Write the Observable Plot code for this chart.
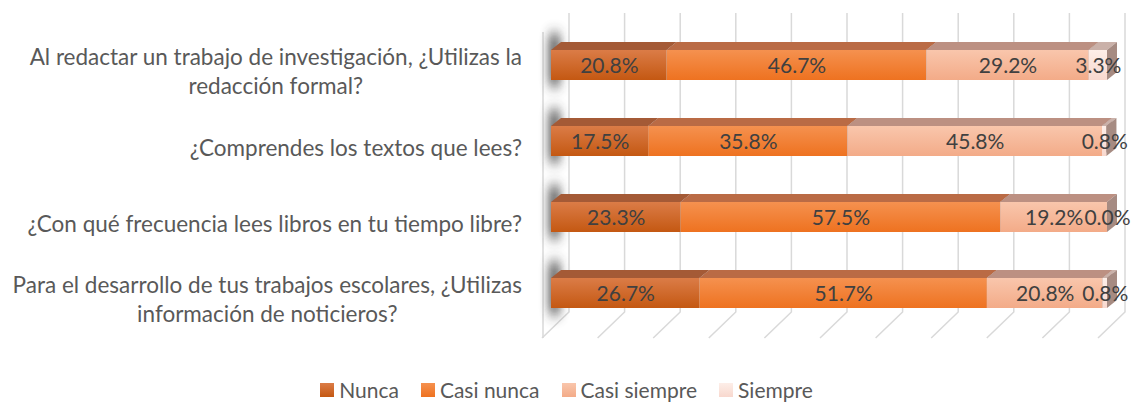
<!DOCTYPE html>
<html>
<head>
<meta charset="utf-8">
<script src="https://cdn.jsdelivr.net/npm/d3@7"></script>
<script src="https://cdn.jsdelivr.net/npm/@observablehq/plot@0.6"></script>
<style>
  html, body { margin: 0; padding: 0; background: #fff; }
  #chart { width: 1133px; }
  .legend { display: flex; justify-content: center; align-items: center; height: 26px; margin-top: 2px;
    font-family: Lato, "Open Sans", sans-serif; font-size: 21px; line-height: 24px; color: #595959; }
  .legend .item { display: flex; align-items: center; margin: 0 11px; }
  .legend .sw { width: 14px; height: 14px; margin-right: 5px; }
</style>
</head>
<body>
<div id="chart"></div>
<script>
// ---- data ----
const questions = [
  "Al redactar un trabajo de investigación, ¿Utilizas la\nredacción formal?",
  "¿Comprendes los textos que lees?",
  "¿Con qué frecuencia lees libros en tu tiempo libre?",
  "Para el desarrollo de tus trabajos escolares, ¿Utilizas\ninformación de noticieros?"
];
const series = ["Nunca", "Casi nunca", "Casi siempre", "Siempre"];
const nunca       = [20.8, 17.5, 23.3, 26.7];
const casiNunca   = [46.7, 35.8, 57.5, 51.7];
const casiSiempre = [29.2, 45.8, 19.2, 20.8];
const siempre     = [3.3, 0.8, 0.0, 0.8];
const xTicks = [0, 10, 20, 30, 40, 50, 60, 70, 80, 90, 100];

// ---- styles ----
const frontTop    = ["#DB7C47", "#F5914F", "#F9C6AC", "#FDEEE8"];
const frontBottom = ["#C45812", "#EE7220", "#F3AB88", "#F8D8CE"];
const topFace     = ["#A45A36", "#BA6B45", "#BC9082", "#CAB1A9"];
const sideFace    = "#A68B82";
const legendColors = ["#C9621F", "#F07A26", "#F5B394", "#F8DCD3"];

const seriesValues = [nunca, casiNunca, casiSiempre, siempre];
const data = [];
questions.forEach((q, i) => series.forEach((s, j) => data.push({q, s, j, v: seriesValues[j][i]})));

const svgns = "http://www.w3.org/2000/svg";
const el = (name, attrs) => { const e = document.createElementNS(svgns, name); for (const k in attrs) e.setAttribute(k, attrs[k]); return e; };

const DX = 10, DY = 8;        // bar depth offsets
const GX = 18, GTOP = 14, GBOT = 20, FX = 27, FY = 26; // grid/back-plane offsets

const chart = Plot.plot({
  width: 1133,
  height: 375,
  marginLeft: 551,
  marginRight: 26,
  marginTop: 27,
  marginBottom: 43,
  style: {fontFamily: "Lato, 'Open Sans', sans-serif", background: "#fff"},
  x: {domain: [0, 100], axis: null},
  y: {domain: questions, axis: null, paddingInner: 0.6, paddingOuter: 0.3},
  color: {domain: series, range: legendColors},
  marks: [
    // grid (back wall) + floor lines + left wall
    Plot.ruleX(xTicks, {
      x: d => d,
      stroke: "#D9D9D9",
      render(index, scales, values, dims) {
        const g = el("g", {fill: "none", stroke: "#D9D9D9", "stroke-width": 1.5});
        const top = dims.marginTop, bottom = dims.height - dims.marginBottom;
        for (const i of index) {
          const X = values.x[i];
          g.appendChild(el("path", {d: `M${X + GX},${top - GTOP}V${bottom - GBOT}L${X + GX - FX},${bottom - GBOT + FY}`}));
          if (xTicks[i] === 0) {
            g.appendChild(el("path", {d: `M${X + GX - FX + 1},${top + 5}V${bottom - GBOT + FY}`}));
          }
        }
        return g;
      }
    }),
    // 3D stacked bars
    Plot.barX(data, Plot.stackX({
      x: "v", y: "q", z: "s", fill: "s",
      render(index, scales, values, dims, context, next) {
        const base = next(index, scales, values, dims, context);
        const rects = Array.from(base.querySelectorAll("rect"));
        const g = el("g", {});
        const defs = el("defs", {});
        frontTop.forEach((c, k) => {
          const lg = el("linearGradient", {id: "fg" + k, x1: 0, y1: 0, x2: 0, y2: 1});
          lg.appendChild(el("stop", {offset: "0%", "stop-color": c}));
          lg.appendChild(el("stop", {offset: "100%", "stop-color": frontBottom[k]}));
          defs.appendChild(lg);
        });
        const f = el("filter", {id: "shadowBlur", x: "-100%", y: "-50%", width: "300%", height: "200%"});
        f.appendChild(el("feGaussianBlur", {stdDeviation: "4 7"}));
        defs.appendChild(f);
        g.appendChild(defs);
        const items = rects.map((r, n) => ({
          x: +r.getAttribute("x"), y: +r.getAttribute("y"),
          w: +r.getAttribute("width"), h: +r.getAttribute("height"),
          k: data[index[n]].j
        }));
        const rows = d3.groups(items, d => d.y);
        for (const [y, row] of rows) {
          const x0 = d3.min(row, d => d.x), h = row[0].h;
          g.appendChild(el("rect", {x: x0 - 3, y: y - 16, width: 13, height: h + 22, fill: "#333", opacity: 0.7, filter: "url(#shadowBlur)"}));
        }
        for (const [y, row] of rows) {
          row.sort((a, b) => a.x - b.x || a.k - b.k);
          for (const d of row) {
            if (d.w <= 0) continue;
            g.appendChild(el("rect", {x: d.x, y: d.y, width: d.w, height: d.h, fill: `url(#fg${d.k})`}));
            g.appendChild(el("polygon", {points: `${d.x},${d.y} ${d.x + DX},${d.y - DY} ${d.x + d.w + DX},${d.y - DY} ${d.x + d.w},${d.y}`, fill: topFace[d.k]}));
            g.appendChild(el("polygon", {points: `${d.x + d.w},${d.y} ${d.x + d.w + DX},${d.y - DY} ${d.x + d.w + DX},${d.y + d.h - DY} ${d.x + d.w},${d.y + d.h}`, fill: sideFace}));
          }
        }
        return g;
      }
    })),
    // value labels
    Plot.text(data, Plot.stackX({
      x: "v", y: "q", z: "s",
      text: d => d.v.toFixed(1) + "%",
      fill: "#404040", fontSize: 21, dy: 1
    })),
    // category labels
    Plot.text(questions, {
      y: d => d,
      text: d => d,
      frameAnchor: "left",
      textAnchor: "middle",
      lineHeight: 1.25,
      dy: 5,
      fontSize: 22.5,
      fill: "#595959",
      render(index, scales, values, dims, context, next) {
        const g = next(index, scales, values, dims, context);
        g.setAttribute("class", "cat-labels");
        return g;
      }
    })
  ]
});

document.getElementById("chart").appendChild(chart);

// right-align category label blocks (lines centered within each block)
const labelRight = 522;
const svgBox = chart.getBoundingClientRect();
chart.querySelectorAll(".cat-labels text").forEach(t => {
  const b = t.getBoundingClientRect();
  const shift = labelRight - (b.right - svgBox.left);
  t.setAttribute("transform", (t.getAttribute("transform") || "") + ` translate(${shift},0)`);
});

// legend
const legend = document.createElement("div");
legend.className = "legend";
series.forEach((s, k) => {
  const item = document.createElement("div");
  item.className = "item";
  const sw = document.createElement("div");
  sw.className = "sw";
  sw.style.background = `linear-gradient(${frontTop[k]}, ${frontBottom[k]})`;
  const lab = document.createElement("span");
  lab.textContent = s;
  item.appendChild(sw); item.appendChild(lab);
  legend.appendChild(item);
});
document.getElementById("chart").appendChild(legend);
</script>
</body>
</html>
